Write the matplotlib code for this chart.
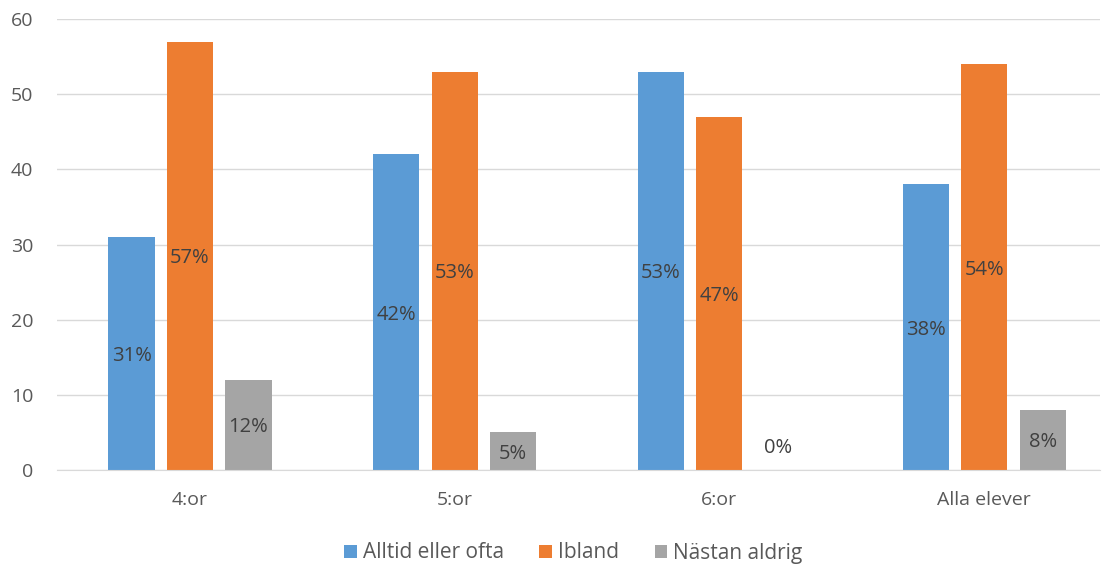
import matplotlib.pyplot as plt
import numpy as np

plt.rcParams['font.family'] = ['Open Sans', 'DejaVu Sans']

categories = ['4:or', '5:or', '6:or', 'Alla elever']
series = ['Alltid eller ofta', 'Ibland', 'Nästan aldrig']
alltid = [31, 42, 53, 38]
ibland = [57, 53, 47, 54]
nastan = [12, 5, 0, 8]
colors = ['#5B9BD5', '#ED7D31', '#A5A5A5']

W, H = 1109, 572
fig = plt.figure(figsize=(W / 100, H / 100), dpi=100)
ax = fig.add_axes([57 / W, 102 / H, (1100 - 57) / W, (470 - 19) / H])

x = np.arange(len(categories))
width = 0.174
step = 0.221
txt = '#404040'
for i, (name, vals, c) in enumerate(zip(series, [alltid, ibland, nastan], colors)):
    pos = x + (i - 1) * step
    ax.bar(pos, vals, width, color=c, label=name, zorder=2)
    for p, v in zip(pos, vals):
        y = v / 2 if v > 0 else 3.3
        ax.text(p, y, f'{v}%', ha='center', va='center_baseline', fontsize=14.5,
                color=txt, zorder=3)

ax.set_xlim(-0.5025, 3.438)
ax.set_ylim(0, 60)
ax.set_yticks(range(0, 61, 10))
ax.yaxis.grid(True, color='#D9D9D9', linewidth=1, zorder=0)
ax.set_xticks(x)
ax.set_xticklabels(categories)
ax.tick_params(axis='both', length=0, labelsize=14, colors='#595959')
ax.tick_params(axis='x', pad=15)
ax.tick_params(axis='y', pad=17)
for s in ['top', 'right', 'left']:
    ax.spines[s].set_visible(False)
ax.spines['bottom'].set_color('#D9D9D9')

fig.legend(loc='center', bbox_to_anchor=(0.517, 1 - 553 / H), ncol=3, frameon=False,
           fontsize=15, handlelength=0.6, handleheight=0.6, handletextpad=0.3,
           columnspacing=1.7, labelcolor='#595959')

fig.savefig('out.png', dpi=100)
